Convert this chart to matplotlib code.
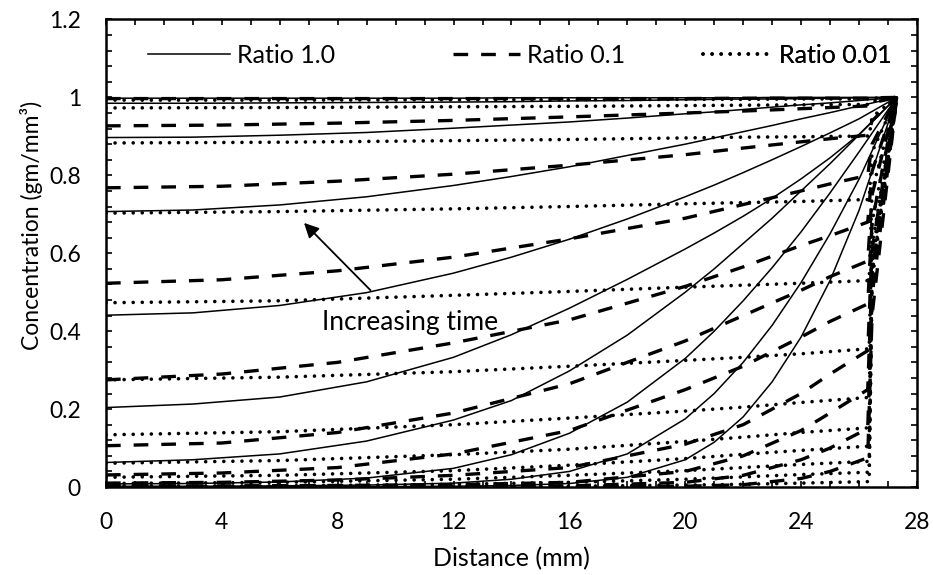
import matplotlib
matplotlib.use('Agg')
import matplotlib.pyplot as plt
from matplotlib.ticker import MultipleLocator

plt.rcParams['font.family'] = ['Lato', 'DejaVu Sans']

x_solid = [0, 3, 6, 9, 12, 14, 16, 18, 20, 21, 22, 23, 24, 25, 26, 27.3]
x_dashed = [0, 4, 8, 12, 16, 20, 22, 24, 25, 26.3, 26.45, 27.3]
x_dotted = [0, 6, 12, 16, 20, 22, 24, 26.35, 26.45, 27.3]

# Ratio 1.0 (solid), latest time first
ratio_1_0 = [
    [.998, .998, .998, .998, .998, .999, .999, .999, .999, .999, .999, 1.0, 1.0, 1.0, 1.0, 1.0],
    [.985, .985, .986, .987, .988, .989, .991, .992, .994, .995, .996, .996, .997, .998, .999, 1.0],
    [.897, .898, .903, .910, .921, .929, .937, .947, .958, .963, .969, .975, .981, .986, .992, 1.0],
    [.707, .711, .724, .745, .774, .797, .822, .851, .880, .896, .912, .928, .945, .961, .978, 1.0],
    [.441, .447, .466, .499, .549, .590, .636, .688, .745, .775, .807, .840, .874, .909, .945, 1.0],
    [.204, .213, .231, .270, .333, .391, .459, .533, .611, .652, .695, .741, .791, .845, .905, 1.0],
    [.063, .070, .085, .118, .172, .222, .298, .390, .500, .560, .625, .690, .760, .830, .904, 1.0],
    [.008, .009, .013, .023, .048, .083, .138, .218, .330, .400, .478, .563, .655, .755, .860, 1.0],
    [.002, .002, .003, .005, .010, .020, .040, .085, .175, .240, .320, .415, .525, .650, .790, 1.0],
    [0, 0, 0, .001, .002, .004, .009, .025, .070, .115, .180, .270, .385, .530, .710, 1.0],
]

# Ratio 0.1 (dashed)
ratio_0_1 = [
    [.997, .997, .997, .997, .997, .997, .998, .998, .998, .998, .999, 1.0],
    [.927, .929, .934, .941, .950, .960, .965, .971, .974, .978, .986, 1.0],
    [.768, .772, .785, .803, .826, .853, .870, .886, .894, .903, .940, 1.0],
    [.523, .532, .555, .590, .637, .690, .725, .760, .778, .800, .880, 1.0],
    [.275, .290, .320, .370, .429, .515, .565, .620, .645, .680, .810, 1.0],
    [.106, .113, .140, .190, .265, .375, .440, .505, .540, .580, .750, 1.0],
    [.031, .036, .050, .085, .145, .250, .310, .385, .425, .470, .680, 1.0],
    [.010, .012, .018, .030, .050, .110, .160, .240, .290, .350, .610, 1.0],
    [.003, .003, .004, .006, .012, .040, .080, .145, .190, .250, .550, 1.0],
    [0, 0, 0, .001, .003, .012, .030, .070, .100, .150, .490, 1.0],
    [0, 0, 0, 0, 0, .002, .006, .022, .040, .075, .440, 1.0],
]

# Ratio 0.01 (dotted)
ratio_0_01 = [
    [.993, .993, .994, .994, .995, .995, .996, .996, .998, 1.0],
    [.973, .974, .976, .977, .979, .980, .981, .982, .990, 1.0],
    [.883, .885, .889, .892, .896, .898, .899, .901, .950, 1.0],
    [.703, .707, .714, .720, .727, .730, .733, .738, .860, 1.0],
    [.473, .478, .492, .502, .513, .518, .523, .530, .760, 1.0],
    [.275, .282, .296, .310, .325, .333, .342, .355, .680, 1.0],
    [.134, .142, .160, .177, .195, .205, .217, .230, .620, 1.0],
    [.061, .068, .083, .097, .117, .128, .140, .152, .590, 1.0],
    [.025, .030, .042, .056, .073, .084, .094, .105, .570, 1.0],
    [.009, .012, .020, .030, .042, .050, .058, .066, .550, 1.0],
    [.002, .003, .007, .012, .020, .026, .032, .038, .540, 1.0],
    [0, 0, .001, .002, .005, .007, .010, .014, .530, 1.0],
]

x_ticks = [0, 4, 8, 12, 16, 20, 24, 28]
y_ticks = [0, 0.2, 0.4, 0.6, 0.8, 1.0, 1.2]
y_tick_labels = ['0', '0.2', '0.4', '0.6', '0.8', '1', '1.2']

fig = plt.figure(figsize=(9.33, 5.75), dpi=100)
ax = fig.add_axes([0.1136, 0.153, 0.8692, 0.8131])

handles = []
for i, ys in enumerate(ratio_1_0):
    ln, = ax.plot(x_solid, ys, color='black', lw=1.1)
    if i == 0:
        handles.append(ln)
for i, ys in enumerate(ratio_0_1):
    ln, = ax.plot(x_dashed, ys, color='black', lw=2.4, ls=(0, (4.4, 3.9)),
                  dash_capstyle='butt')
    if i == 0:
        handles.append(ln)
for i, ys in enumerate(ratio_0_01):
    ln, = ax.plot(x_dotted, ys, color='black', lw=2.6, ls=(0, (0.01, 2.5)),
                  dash_capstyle='round')
    if i == 0:
        handles.append(ln)

ax.set_xlim(0, 28)
ax.set_ylim(0, 1.2)
ax.set_xticks(x_ticks)
ax.set_yticks(y_ticks)
ax.set_yticklabels(y_tick_labels)
ax.xaxis.set_minor_locator(MultipleLocator(1))
ax.yaxis.set_minor_locator(MultipleLocator(0.04))
ax.tick_params(which='both', direction='in', top=True, right=True,
               length=4.3, width=1.2, pad=18, labelsize=16.5)
for s in ax.spines.values():
    s.set_linewidth(1.8)

ax.set_xlabel('Distance (mm)', fontsize=18, labelpad=10)
ax.set_ylabel('Concentration (gm/mm³)', fontsize=16.5)
ax.yaxis.set_label_coords(-0.078, 0.56)

ax.annotate('', xy=(6.77, 0.683), xytext=(9.2, 0.50),
            arrowprops=dict(arrowstyle='-|>', color='black', lw=1.3,
                            mutation_scale=22))
ax.text(10.5, 0.421, 'Increasing time', ha='center', va='center', fontsize=19)

# one legend entry per series, placed like the original
legend_labels = ['Ratio 1.0', 'Ratio 0.1', 'Ratio 0.01']
legend_x = [0.0518, 0.428, 0.736]
legend_len = [3.28, 2.68, 2.76]
for h, lab, lx, hl in zip(handles, legend_labels, legend_x, legend_len):
    leg = ax.legend(handles=[h], labels=[lab], loc='center left',
                    bbox_to_anchor=(lx, 0.924), frameon=False,
                    handlelength=hl, handletextpad=0.28, borderpad=0,
                    borderaxespad=0, fontsize=18)
    ax.add_artist(leg)

fig.savefig('out.png', dpi=100)
